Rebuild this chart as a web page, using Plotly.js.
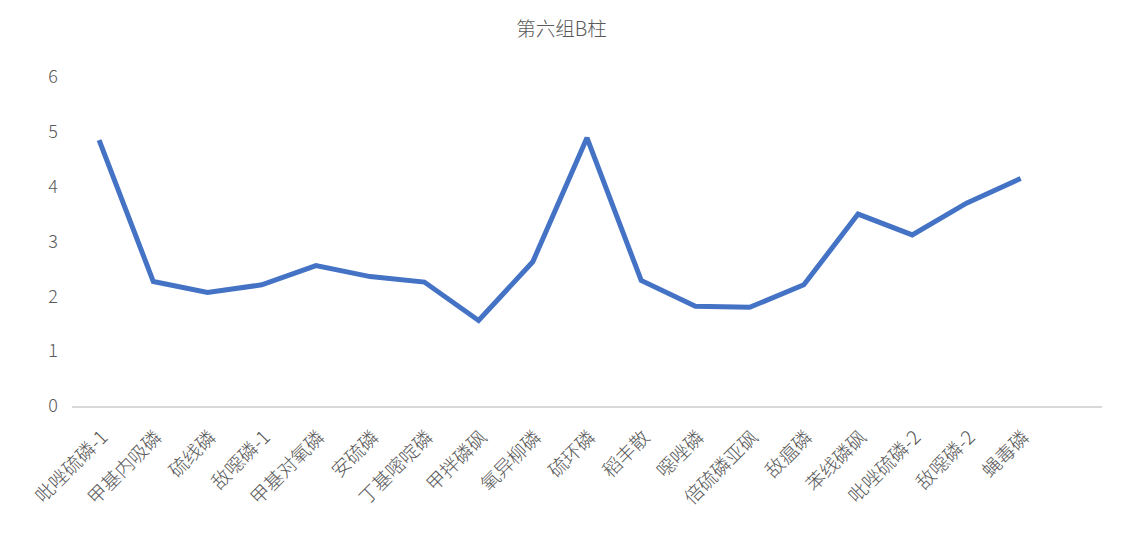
<!DOCTYPE html>
<html>
<head>
<meta charset="utf-8">
<script src="https://cdn.plot.ly/plotly-3.0.1.min.js"></script>
<style>html,body{margin:0;padding:0;background:#fff;}#chart{width:1130px;height:533px;}</style>
</head>
<body>
<div id="chart"></div>
<script>
const categories = ["吡唑硫磷-1","甲基内吸磷","硫线磷","敌噁磷-1","甲基对氧磷","安硫磷","丁基嘧啶磷","甲拌磷砜","氧异柳磷","硫环磷","稻丰散","噁唑磷","倍硫磷亚砜","敌瘟磷","苯线磷砜","吡唑硫磷-2","敌噁磷-2","蝇毒磷"];
const values = [4.85,2.27,2.07,2.21,2.56,2.36,2.26,1.56,2.63,4.89,2.29,1.82,1.80,2.21,3.50,3.12,3.70,4.15];
const yTicks = [0,1,2,3,4,5,6];
const chartTitle = "第六组B柱";

const font = "'Noto Sans CJK SC', 'Noto Sans', sans-serif";
Plotly.newPlot('chart', [{
  x: categories,
  y: values,
  type: 'scatter',
  mode: 'lines',
  line: {color: '#4472C4', width: 5, shape: 'linear'},
  hoverinfo: 'x+y'
}], {
  width: 1130, height: 533,
  margin: {l: 72, r: 28, t: 77, b: 127},
  paper_bgcolor: '#ffffff',
  plot_bgcolor: '#ffffff',
  showlegend: false,
  title: {text: chartTitle, x: 0.497, xanchor: 'center', y: 0.945, yanchor: 'middle',
          font: {family: font, size: 19.5, color: '#595959', weight: 300}},
  xaxis: {
    type: 'category',
    range: [-0.5, 18.5],
    showgrid: false,
    zeroline: false,
    showline: true,
    linecolor: '#d9d9d9',
    linewidth: 1.5,
    ticks: '',
    tickangle: -45,
    ticklabelstandoff: 11,
    ticklabelshift: 3,
    tickfont: {family: font, size: 19, color: '#595959', weight: 300},
    automargin: false
  },
  yaxis: {
    range: [0, 6],
    tickvals: yTicks,
    showgrid: false,
    zeroline: false,
    showline: false,
    ticks: '',
    ticklabelstandoff: 13,
    tickfont: {family: font, size: 18, color: '#595959', weight: 300},
    automargin: false
  }
}, {displayModeBar: false, staticPlot: true});
</script>
</body>
</html>
